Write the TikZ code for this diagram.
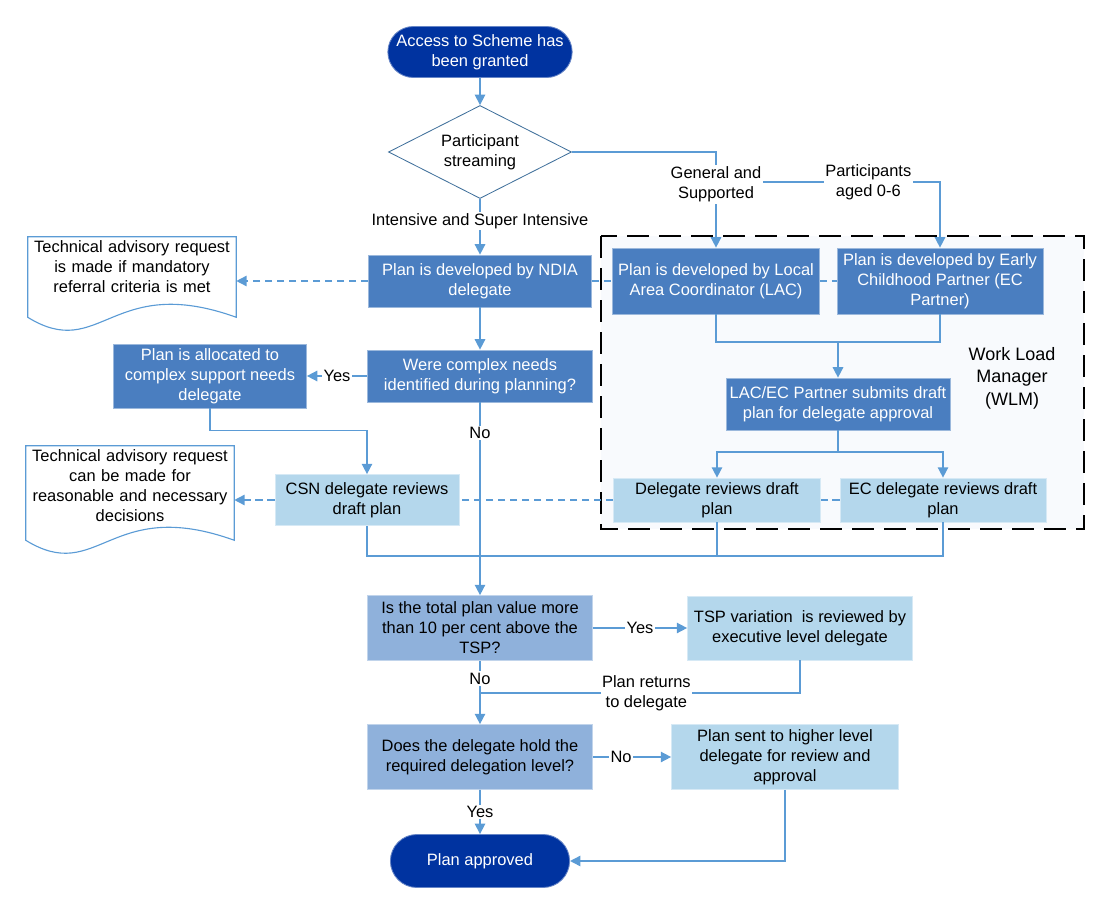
\documentclass[tikz,border=0pt]{standalone}
\usepackage{fontspec}
\setmainfont{Liberation Sans}
\usetikzlibrary{shapes.geometric,shapes.misc,arrows.meta}
\definecolor{termblue}{HTML}{0033A0}
\definecolor{procblue}{HTML}{4A7EC0}
\definecolor{askblue}{HTML}{8FB1DB}
\definecolor{paleblue}{HTML}{B4D7EC}
\definecolor{wireblue}{HTML}{5B9BD5}
\definecolor{edgeblue}{HTML}{41719C}
\definecolor{wlmfill}{HTML}{F8FAFD}

\newcommand\docframe[2]{%
  \draw[wireblue,line width=0.8pt] (#1.north east) -- ([yshift=-#2]#1.south east)
    .. controls +(-125,-45) and +(73,45) .. ([yshift=-#2]#1.south west) -- (#1.north west) -- cycle;}

\begin{document}
\begin{tikzpicture}[x=0.25mm,y=-0.25mm,font=\fontsize{11.7}{14.2}\selectfont,
  endcap/.style={rounded rectangle,fill=termblue,draw=termblue!60!white,line width=0.6pt,text=white,align=center,inner sep=1pt,minimum width=45.75mm,minimum height=12.75mm},
  choice/.style={diamond,aspect=2,draw=edgeblue,fill=white,line width=0.6pt,align=center,inner sep=0pt,minimum width=45.75mm,minimum height=23.25mm},
  task/.style={rectangle,fill=procblue,draw=procblue!55!white,line width=0.5pt,text=white,align=center,inner sep=1pt},
  query/.style={rectangle,fill=askblue,draw=askblue!55!white,line width=0.5pt,align=center,inner sep=1pt},
  review/.style={rectangle,fill=paleblue,draw=paleblue!55!white,line width=0.5pt,align=center,inner sep=1pt},
  note/.style={align=center,text width=52mm,inner xsep=0pt,inner ysep=1mm},
  link/.style={draw=wireblue,line width=1.1pt},
  flow/.style={link,-{Triangle[length=2.6mm,width=2.6mm]}},
  dashlink/.style={link,dash pattern=on 1.8mm off 1.2mm},
  dashflow/.style={flow,dash pattern=on 1.8mm off 1.2mm},
  lab/.style={fill=white,inner sep=1pt,align=center},
  wlm/.style={draw=black,fill=wlmfill,line width=1.4pt,dash pattern=on 5.5mm off 2.5mm}]
\useasboundingbox (0,0) rectangle (1110,915);

% work load manager frame
\draw[wlm] (601,236) rectangle (1084,529);
\node[font=\fontsize{12.8}{15.9}\selectfont,align=center] (wlmname) at (1012,378) {Work Load\\Manager\\(WLM)};

\node[endcap] (start) at (480,52) {Access to Scheme has\\been granted};
\node[choice] (stream) at (480,152) {Participant\\streaming};
\node[task,minimum width=55.75mm,minimum height=13mm] (ndia) at (480,281) {Plan is developed by NDIA\\delegate};
\node[task,minimum width=51.75mm,minimum height=16.5mm] (lac) at (716,281) {Plan is developed by Local\\Area Coordinator (LAC)};
\node[task,minimum width=51.5mm,minimum height=16.5mm] (ecp) at (940,281) {Plan is developed by Early\\Childhood Partner (EC\\Partner)};
\node[task,minimum width=56mm,minimum height=13mm] (submit) at (838,404) {LAC/EC Partner submits draft\\plan for delegate approval};
\node[review,minimum width=51.75mm,minimum height=11mm] (delrev) at (717,500) {Delegate reviews draft\\plan};
\node[review,minimum width=51.5mm,minimum height=11mm] (ecrev) at (943,500) {EC delegate reviews draft\\plan};
\node[task,minimum width=56.25mm,minimum height=13mm] (cplx) at (480,376) {Were complex needs\\identified during planning?};
\node[task,minimum width=48.25mm,minimum height=16mm] (alloc) at (210,376) {Plan is allocated to\\complex support needs\\delegate};
\node[review,minimum width=46mm,minimum height=12.75mm] (csn) at (367,500) {CSN delegate reviews\\draft plan};
\node[query,minimum width=56.25mm,minimum height=16.25mm] (tspq) at (480,628) {Is the total plan value more\\than 10 per cent above the\\TSP?};
\node[review,minimum width=56.25mm,minimum height=16mm] (tspv) at (800,628) {TSP variation\ \ is reviewed by\\executive level delegate};
\node[query,minimum width=56.25mm,minimum height=16.25mm] (hold) at (480,757) {Does the delegate hold the\\required delegation level?};
\node[review,minimum width=56.75mm,minimum height=16.25mm] (higher) at (785,757) {Plan sent to higher level\\delegate for review and\\approval};
\node[endcap,minimum width=45.5mm,minimum height=13.25mm] (done) at (480,861) {Plan approved};

\node[note] (advA) at (132,267) {Technical advisory request\\is made if mandatory\\referral criteria is met};
\node[note] (advB) at (130,486) {Technical advisory request\\can be made for\\reasonable and necessary\\decisions};
\docframe{advA}{5mm}
\docframe{advB}{3.5mm}

% streaming
\draw[flow] (start) -- (stream);
\draw[flow] (stream) -- node[lab,pos=0.4]{Intensive and Super Intensive} (ndia);
\coordinate (fork) at (716,182);
\draw[flow] (fork) -| node[lab,pos=0.34]{Participants\\aged 0-6} (ecp.north);
\draw[flow] (stream.east) -| node[lab,pos=0.67]{General and\\Supported} (lac.north);

% work load manager
\coordinate (meet) at (838,342);
\foreach \n in {lac,ecp} {
  \draw[link] (\n.south) |- (meet);
}
\draw[flow] (meet) -- (submit);
\coordinate (split) at (838,452);
\draw[link] (submit) -- (split);
\foreach \n in {delrev,ecrev} {
  \draw[flow] (split) -| (\n.north);
}

% dashed links
\draw[dashflow] (ndia.west) -- (ndia.west -| advA.east);
\draw[dashlink] (ndia.east) -- (lac.west);
\draw[dashlink] (lac.east) -- (ecp.west);
\draw[dashlink] (ecrev.west) -- (delrev.east);
\draw[dashlink] (delrev.west) -- (csn.east);
\draw[dashflow] (csn.west) -- (csn.west -| advB.east);

% complex needs
\draw[flow] (ndia) -- (cplx);
\draw[flow] (cplx) -- node[lab]{Yes} (alloc);
\draw[flow] (alloc.south) -- ++(0,22) -| (csn.north);
\coordinate (join) at (480,556);
\foreach \n in {csn,delrev,ecrev} {
  \draw[link] (\n.south) |- (join);
}
\draw[flow] (cplx) -- node[lab,pos=0.16]{No} (tspq);

% approval
\draw[flow] (tspq) -- node[lab]{Yes} (tspv);
\coordinate (back) at (480,693);
\draw[link] (tspv.south) |- node[lab,pos=0.74]{Plan returns\\to delegate} (back);
\draw[flow] (tspq) -- node[lab,pos=0.28]{No} (hold);
\draw[flow] (hold) -- node[lab,pos=0.36]{No} (higher);
\draw[flow] (higher.south) |- (done.east);
\draw[flow] (hold) -- node[lab]{Yes} (done);
\end{tikzpicture}
\end{document}
